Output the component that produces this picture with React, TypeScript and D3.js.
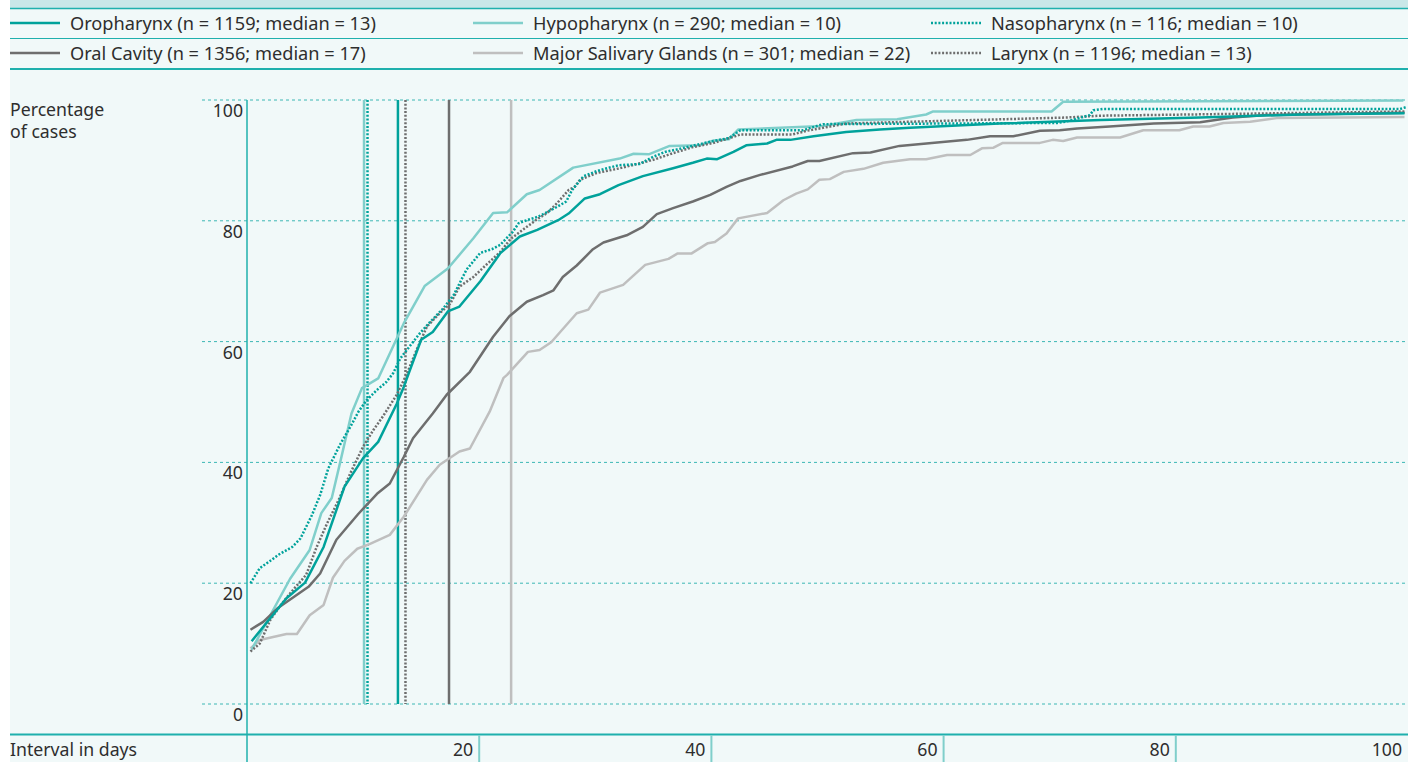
import React from 'react';
import * as d3 from 'd3';

// series names and legend text
const seriesNames = ['Oropharynx', 'Hypopharynx', 'Nasopharynx', 'Oral Cavity', 'Major Salivary Glands', 'Larynx'];
const seriesN = [1159, 290, 116, 1356, 301, 1196];
const seriesMedian = [13, 10, 10, 17, 22, 13];
// where the median marker line is drawn (days)
const medianPos = [13.0, 10.08, 10.38, 17.4, 22.75, 13.65];

// cumulative percentage of cases by interval in days: [day, pct]
const oropharynx = [
  [0.4, 10.4], [3.4, 17.5], [5.0, 20.1], [6.6, 26.0], [8.4, 36.0], [10.0, 40.7], [11.3, 43.4],
  [12.9, 49.7], [13.5, 52.5], [15.0, 60.3], [16.0, 61.6], [17.3, 65.0], [18.3, 65.8], [20.1, 70.0],
  [21.8, 74.6], [23.5, 77.4], [25.0, 78.5], [26.8, 80.1], [27.7, 81.2], [29.1, 83.7], [30.4, 84.4],
  [32.0, 85.9], [34.1, 87.4], [36.7, 88.7], [38.4, 89.6], [39.6, 90.3], [40.5, 90.2], [41.9, 91.4],
  [43.0, 92.5], [44.8, 92.8], [45.6, 93.4], [46.8, 93.4], [48.8, 94.0], [51.6, 94.7], [54.5, 95.1],
  [57.1, 95.4], [64.8, 96.1], [73.5, 96.7], [82.1, 97.1], [90.7, 97.6], [99.7, 97.8],
];
const hypopharynx = [
  [0.4, 9.0], [3.7, 20.7], [5.4, 25.5], [6.4, 31.6], [7.3, 34.1], [8.0, 39.8], [9.0, 48.1],
  [9.9, 52.3], [11.3, 53.9], [13.5, 63.0], [15.3, 69.2], [17.3, 72.1], [19.5, 77.1], [21.2, 81.3],
  [22.4, 81.4], [24.1, 84.4], [25.2, 85.1], [28.1, 88.8], [32.1, 90.3], [33.3, 91.1], [34.6, 91.0],
  [36.4, 92.4], [39.0, 92.5], [40.2, 93.3], [41.5, 93.5], [42.3, 95.1], [49.6, 95.7], [52.5, 96.7],
  [56.0, 96.8], [58.5, 97.6], [59.1, 98.1], [69.3, 98.1], [70.3, 99.7], [99.6, 99.9],
];
const nasopharynx = [
  [0.3, 20.0], [1.1, 22.5], [2.0, 23.7], [2.7, 24.7], [3.9, 26.0], [4.6, 27.4], [5.6, 31.3],
  [6.3, 34.6], [7.0, 39.0], [8.0, 42.9], [8.9, 45.9], [9.6, 48.4], [10.3, 50.3], [11.2, 52.0],
  [12.0, 53.3], [12.6, 54.8], [13.2, 57.2], [14.0, 59.2], [14.9, 61.4], [15.8, 63.3], [16.9, 65.5],
  [17.8, 67.7], [18.9, 71.9], [20.1, 74.7], [21.1, 75.3], [21.8, 76.0], [22.2, 76.8], [22.9, 78.2],
  [23.4, 79.6], [24.1, 80.1], [25.1, 80.7], [26.0, 81.6], [26.7, 82.3], [27.5, 83.2], [28.0, 85.1],
  [29.0, 87.4], [30.1, 88.2], [31.0, 88.7], [32.0, 89.2], [33.8, 89.4], [35.0, 90.6], [36.0, 91.4],
  [37.0, 91.8], [39.9, 93.1], [41.5, 93.7], [42.5, 95.0], [47.9, 95.0], [49.6, 96.0], [69.8, 96.2],
  [70.5, 96.4], [72.6, 97.5], [72.9, 98.3], [73.7, 98.5], [99.3, 98.5], [99.8, 98.8],
];
const oralCavity = [
  [0.3, 12.3], [1.4, 13.6], [2.6, 15.8], [5.3, 19.4], [6.3, 21.6], [7.7, 27.2], [9.6, 31.5],
  [11.2, 34.8], [12.3, 36.5], [13.5, 40.9], [14.3, 44.0], [16.0, 48.1], [17.2, 51.2], [19.2, 55.0],
  [21.2, 60.8], [22.6, 64.2], [24.1, 66.6], [25.5, 67.7], [26.4, 68.5], [27.2, 70.7], [28.4, 72.6],
  [29.8, 75.3], [30.7, 76.4], [32.7, 77.6], [34.1, 79.0], [35.3, 81.1], [36.7, 82.1], [38.4, 83.2],
  [39.9, 84.3], [41.3, 85.6], [42.5, 86.6], [44.2, 87.6], [47.0, 89.0], [48.3, 89.9], [49.3, 89.9],
  [52.2, 91.2], [53.7, 91.3], [56.2, 92.4], [62.0, 93.4], [64.0, 94.0], [66.0, 94.0], [68.3, 94.9],
  [70.0, 95.0], [71.5, 95.3], [74.3, 95.6], [78.1, 96.1], [82.1, 96.3], [84.9, 97.1], [87.8, 97.5],
  [90.7, 97.6], [99.7, 97.9],
];
const salivary = [
  [0.3, 9.2], [1.1, 10.6], [3.4, 11.6], [4.3, 11.6], [5.4, 14.7], [6.6, 16.4], [7.4, 20.9],
  [8.4, 23.7], [9.5, 25.7], [10.6, 26.5], [12.3, 28.0], [13.5, 31.0], [15.5, 37.1], [16.6, 39.6],
  [18.3, 41.8], [19.2, 42.3], [20.9, 48.4], [22.1, 54.0], [22.4, 54.5], [24.2, 58.3], [25.2, 58.6],
  [26.2, 59.9], [28.4, 64.7], [29.4, 65.3], [30.4, 68.1], [32.4, 69.4], [34.3, 72.7], [36.3, 73.7],
  [37.1, 74.6], [38.3, 74.6], [39.7, 76.3], [40.3, 76.5], [41.3, 77.9], [42.3, 80.4], [44.8, 81.3],
  [46.2, 83.4], [47.3, 84.5], [48.3, 85.2], [49.3, 86.8], [50.2, 86.9], [51.4, 88.1], [53.1, 88.6],
  [54.8, 89.6], [57.1, 90.2], [58.5, 90.2], [60.3, 90.9], [62.3, 90.9], [63.3, 92.0], [64.3, 92.1],
  [65.1, 92.9], [68.3, 92.9], [69.4, 93.4], [70.3, 93.2], [71.5, 93.8], [75.2, 93.8], [77.2, 95.0],
  [80.3, 95.0], [81.5, 95.6], [82.9, 95.6], [84.1, 96.2], [86.4, 96.4], [88.7, 97.0], [99.7, 97.2],
];
const larynx = [
  [0.3, 8.7], [1.1, 10.0], [2.0, 13.9], [2.8, 16.1], [3.7, 18.3], [5.1, 21.4], [6.0, 26.0],
  [6.9, 29.9], [7.9, 33.8], [8.9, 38.2], [10.0, 42.6], [10.9, 45.4], [11.7, 47.6], [12.9, 51.2],
  [13.8, 54.8], [14.6, 58.6], [15.5, 62.5], [16.6, 64.7], [17.5, 66.3], [18.3, 69.1], [19.5, 70.7],
  [20.6, 72.7], [21.8, 74.8], [22.7, 77.0], [24.1, 79.0], [25.1, 80.4], [25.8, 81.2], [26.7, 82.9],
  [27.7, 85.1], [28.2, 85.6], [28.7, 86.8], [30.1, 87.9], [32.1, 88.7], [33.6, 89.4], [35.0, 90.1],
  [36.7, 91.2], [38.4, 92.2], [40.2, 92.9], [41.9, 93.9], [42.5, 94.3], [47.0, 94.3], [48.2, 94.9],
  [50.2, 95.6], [51.6, 96.1], [57.1, 96.4], [70.6, 97.1], [73.5, 97.4], [84.9, 97.7], [99.7, 98.1],
];
const seriesData = [oropharynx, hypopharynx, nasopharynx, oralCavity, salivary, larynx];

const yTicks = [0, 20, 40, 60, 80, 100];
const xTicks = [20, 40, 60, 80, 100];

const TEAL = '#00a29b';
const LIGHT_TEAL = '#80cfcb';
const DARK_GREY = '#6e6e6e';
const LIGHT_GREY = '#bfbfbf';
const styles = [
  { color: TEAL, dash: null },
  { color: LIGHT_TEAL, dash: null },
  { color: TEAL, dash: '2,1.7' },
  { color: DARK_GREY, dash: null },
  { color: LIGHT_GREY, dash: null },
  { color: DARK_GREY, dash: '2,1.7' },
];

const FONT = '"Noto Sans", "Open Sans", sans-serif';
const TEXT = '#2e2e2e';

export default function App() {
  const W = 1419, H = 762;
  const left = 10, right = 1408;
  const x = d3.scaleLinear().domain([0, 100]).range([247, 1408]);
  const y = d3.scaleLinear().domain([0, 100]).range([704, 100]);
  const line = d3.line<number[]>().x(d => x(d[0])).y(d => y(d[1]));

  const legendCols = [10, 473, 931];
  const legendRows = [23, 53];

  return (
    <svg width={W} height={H} style={{ position: 'absolute', left: 0, top: 0, fontFamily: FONT }}>
      <rect x={0} y={0} width={W} height={H} fill="#ffffff" />
      <rect x={left} y={0} width={right - left} height={H} fill="#f1f9f9" />
      <rect x={left} y={0} width={right - left} height={8} fill="#c9e7e8" />

      {/* legend */}
      <line x1={left} x2={right} y1={8.5} y2={8.5} stroke="#1fb0ad" strokeWidth={1.5} />
      <line x1={left} x2={right} y1={38.5} y2={38.5} stroke="#1fb0ad" strokeWidth={1.2} />
      <line x1={left} x2={right} y1={69} y2={69} stroke="#1fb0ad" strokeWidth={2} />
      {seriesNames.map((name, i) => {
        const cx = legendCols[i % 3];
        const cy = legendRows[Math.floor(i / 3)];
        return (
          <g key={name}>
            <line x1={cx} x2={cx + 50} y1={cy} y2={cy} stroke={styles[i].color} strokeWidth={2.5}
              strokeDasharray={styles[i].dash || undefined} />
            <text x={cx + 60} y={cy + 6.5} fontSize={18.2} fill={TEXT}>
              {`${name} (n = ${seriesN[i]}; median = ${seriesMedian[i]})`}
            </text>
          </g>
        );
      })}

      {/* y axis title */}
      <text x={10} y={116} fontSize={17.7} fill={TEXT}>Percentage</text>
      <text x={10} y={138} fontSize={17.7} fill={TEXT}>of cases</text>

      {/* gridlines and y ticks */}
      {yTicks.map(t => (
        <g key={t}>
          <line x1={202} x2={right} y1={y(t)} y2={y(t)} stroke="#3cb7b4" strokeWidth={1} strokeDasharray="3,3" />
          <text x={243} y={y(t) + 17} fontSize={17.7} fill={TEXT} textAnchor="end">{t}</text>
        </g>
      ))}

      {/* x axis band */}
      <line x1={left} x2={right} y1={734.5} y2={734.5} stroke="#1fb0ad" strokeWidth={1.8} />
      <line x1={x(0)} x2={x(0)} y1={y(100)} y2={H} stroke="#1fb0ad" strokeWidth={1.5} />
      {xTicks.map(t => (
        <g key={t}>
          {t < 100 && <line x1={x(t)} x2={x(t)} y1={735} y2={H} stroke="#80cfcb" strokeWidth={2} />}
          <text x={x(t) - 6} y={756} fontSize={17.7} fill={TEXT} textAnchor="end">{t}</text>
        </g>
      ))}
      <text x={10} y={756} fontSize={17.7} fill={TEXT}>Interval in days</text>

      {/* median lines */}
      {medianPos.map((m, i) => (
        <line key={'m' + i} x1={x(m)} x2={x(m)} y1={y(100)} y2={y(0)} stroke={styles[i].color}
          strokeWidth={2.5} strokeDasharray={styles[i].dash || undefined} />
      ))}

      {/* curves, draw lighter first */}
      {[4, 1, 3, 5, 2, 0].map(i => (
        <path key={'s' + i} d={line(seriesData[i]) || ''} fill="none" stroke={styles[i].color}
          strokeWidth={2.5} strokeLinejoin="round" strokeDasharray={styles[i].dash || undefined} />
      ))}
    </svg>
  );
}
